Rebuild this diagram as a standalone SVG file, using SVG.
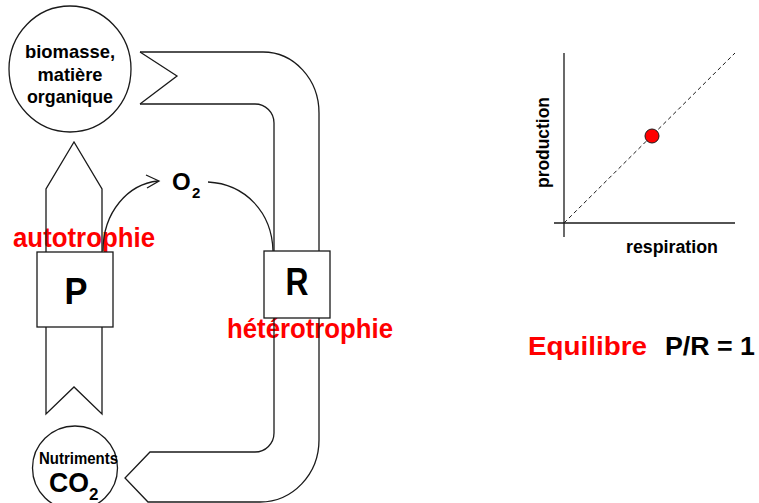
<svg xmlns="http://www.w3.org/2000/svg" width="759" height="503" viewBox="0 0 759 503">
<style>
.ln{fill:none;stroke:#1a1a1a;stroke-width:1.3;stroke-linejoin:miter}
.bx{fill:#fff;stroke:#1a1a1a;stroke-width:1.3}
.t{font-family:"Liberation Sans",Arial,sans-serif;font-weight:bold;fill:#000}
.r{font-family:"Liberation Sans",Arial,sans-serif;font-weight:bold;fill:#ff0000}
</style>
<rect width="759" height="503" fill="#fff"/>
<g id="autotrophie-label"><text class="r" x="13" y="247" font-size="27" textLength="142" lengthAdjust="spacingAndGlyphs">autotrophie</text></g>
<g id="heterotrophie-label"><text class="r" x="227" y="338" font-size="27" textLength="166" lengthAdjust="spacingAndGlyphs">hétérotrophie</text></g>
<g id="connectors">
  <path class="ln" d="M140,52 L177,76 L140,104"/>
  <path class="ln" d="M140,52 L263,52 A56,61 0 0 1 319,113 L319,440 A59,62 0 0 1 260,502 L148,502 L125,478 L150,452 L255,452 A19,19 0 0 0 274,433 L274,123 A19,19 0 0 0 255,104 L140,104"/>
  <path class="ln" d="M46,252 L46,189 L74,142 L102,189 L102,252"/>
  <path class="ln" d="M46,327 L46,414 L74,387 L102,414 L102,327"/>
  <path class="ln" d="M103,251 C103,212 128,184 158,181"/>
  <path class="ln" d="M146,175 L159,181 L147,188"/>
  <path class="ln" d="M208,182 C245,184 272,212 273,251"/>
</g>
<g id="biomasse">
  <ellipse class="bx" cx="70" cy="69" rx="61" ry="63"/>
  <text class="t" x="70" y="58" font-size="19" text-anchor="middle" textLength="90" lengthAdjust="spacingAndGlyphs">biomasse,</text>
  <text class="t" x="70" y="81" font-size="19" text-anchor="middle" textLength="65" lengthAdjust="spacingAndGlyphs">matière</text>
  <text class="t" x="70" y="103" font-size="19" text-anchor="middle" textLength="86" lengthAdjust="spacingAndGlyphs">organique</text>
</g>
<g id="P">
  <rect class="bx" x="37" y="252" width="76" height="75"/>
  <text class="t" x="64.5" y="304" font-size="37" textLength="23" lengthAdjust="spacingAndGlyphs">P</text>
</g>
<g id="R">
  <rect class="bx" x="264" y="251" width="66" height="67"/>
  <text class="t" x="285.5" y="295" font-size="38" textLength="23" lengthAdjust="spacingAndGlyphs">R</text>
</g>
<g id="O2">
  <text class="t" x="172" y="190" font-size="24">O</text>
  <text class="t" x="192" y="198" font-size="15">2</text>
</g>
<g id="nutriments">
  <ellipse class="bx" cx="75" cy="468" rx="42.5" ry="42"/>
  <text class="t" x="39" y="464" font-size="16.5" textLength="79" lengthAdjust="spacingAndGlyphs">Nutriments</text>
  <text class="t" x="49" y="492" font-size="27" textLength="40" lengthAdjust="spacingAndGlyphs">CO</text>
  <text class="t" x="89" y="500" font-size="17">2</text>
</g>
<g id="graph">
  <line class="ln" x1="564" y1="53" x2="564" y2="237"/>
  <line class="ln" x1="554" y1="223" x2="735" y2="223"/>
  <line x1="564" y1="223" x2="735" y2="53" stroke="#1a1a1a" stroke-width="1" stroke-dasharray="4,3"/>
  <circle cx="652" cy="136" r="7" fill="#ff0000" stroke="#1a1a1a" stroke-width="1"/>
  <text class="t" font-size="18" text-anchor="middle" transform="translate(549,142.5) rotate(-90)" textLength="91" lengthAdjust="spacingAndGlyphs">production</text>
  <text class="t" x="672" y="253" font-size="18" text-anchor="middle" textLength="92" lengthAdjust="spacingAndGlyphs">respiration</text>
</g>
<g id="equilibre">
  <text class="r" x="528" y="355" font-size="25" textLength="119" lengthAdjust="spacingAndGlyphs">Equilibre</text>
  <text class="t" x="665" y="355" font-size="25" textLength="90" lengthAdjust="spacingAndGlyphs">P/R = 1</text>
</g>
</svg>
